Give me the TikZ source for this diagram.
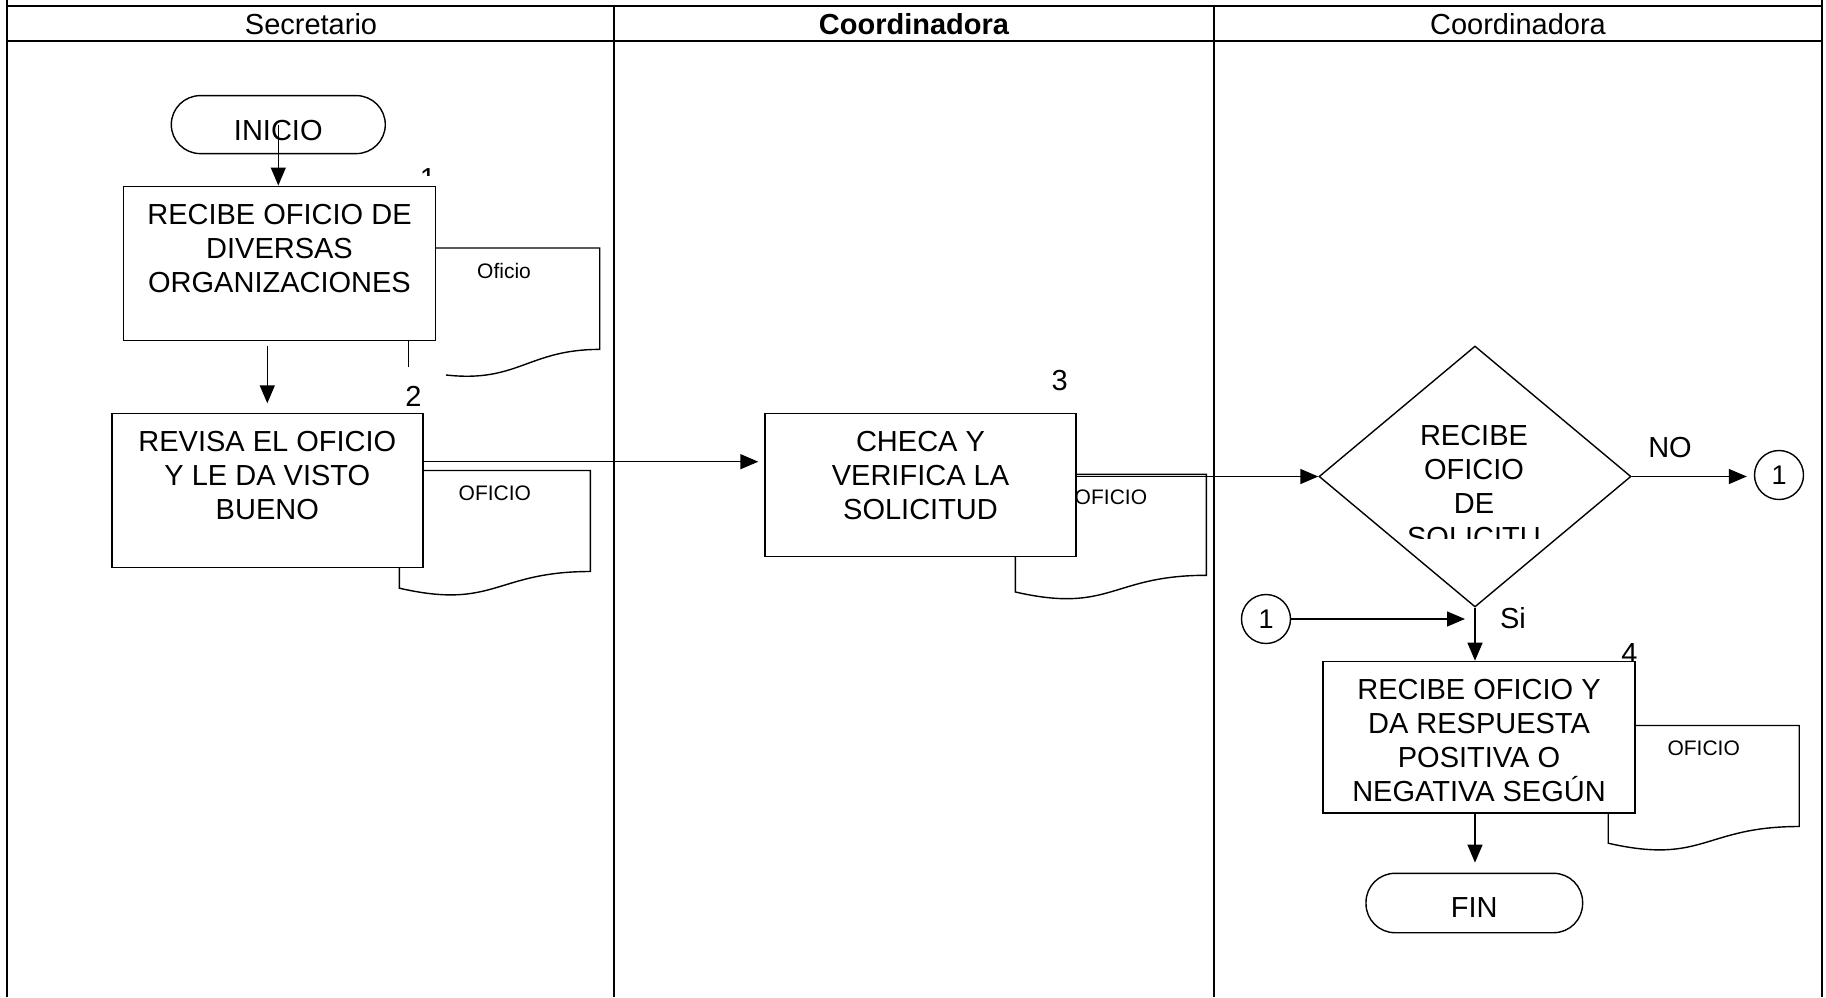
\documentclass[tikz,border=0pt]{standalone}
\usepackage{fontspec}
\setmainfont{Liberation Sans}
\usepackage{tikz}
\usetikzlibrary{shapes, arrows.meta, positioning, calc}

% text sits at the top of the process boxes
\newcommand{\boxtext}[3]{\parbox[c][#1][t]{#2}{\centering\rule{0pt}{19.2pt}#3}}

% document symbol: label name, top left corner, label text
\newcommand{\oficiodoc}[4]{%
  \begin{scope}[shift={(#2,#3)}]
    \draw[docline] (0,0) -- (191,0) -- (191,101) .. controls (95.5,101) and (95.5,139.5) .. (0,117.7) -- cycle;
    \node[doclabel] (#1) at (95.5,23) {#4};
  \end{scope}}

\begin{document}
\begin{tikzpicture}[
    x=0.5pt, y=-0.5pt,
    font=\fontsize{14.5}{17}\selectfont,
    lane/.style={line width=0.9pt},
    proc/.style={rectangle, draw, fill=white, line width=0.7pt, inner sep=0pt},
    term/.style={rectangle, draw, fill=white, line width=0.7pt, rounded corners=14.5pt, minimum width=107pt, minimum height=29pt, inner sep=0pt},
    dec/.style={diamond, draw, fill=white, line width=0.7pt, minimum width=156pt, minimum height=130.5pt, inner sep=0pt},
    conn/.style={circle, draw, fill=white, line width=0.7pt, minimum size=24.5pt, inner sep=0pt, font=\fontsize{13.5}{16}\selectfont},
    docline/.style={draw, fill=white, line width=0.7pt},
    doclabel/.style={font=\fontsize{10.5}{12}\selectfont, inner sep=0pt},
    num/.style={inner sep=0pt},
    arrow/.style={-{Triangle[length=9pt, width=7.5pt]}, line width=0.7pt}
]
\useasboundingbox (0,0) rectangle (1826,997);

% =========================================================
% LANES
% =========================================================
\draw[lane] (7.3,0) -- (7.3,997);
\draw[lane] (1822,0) -- (1822,997);
\draw[lane] (7.3,6.3) -- (1822,6.3);
\draw[lane] (7.3,41) -- (1822,41);
\draw[lane] (614,6.3) -- (614,997);
\draw[lane] (1214,6.3) -- (1214,997);

\node (hsec) at (311,24) {Secretario};
\node[font=\fontsize{14.5}{17}\selectfont\bfseries] (hcoord) at (914,24) {Coordinadora};
\node (hcoordb) at (1518,24) {Coordinadora};

% =========================================================
% STEP NUMBERS
% =========================================================
\begin{scope}
    \clip (400,160) rectangle (460,175.5);
    \node[num] (n1) at (428,178.4) {1};
\end{scope}
\node[num] (n2) at (413.4,396) {2};
\node[num] (n3) at (1059.7,381) {3};
\node[num] (n4) at (1629.5,653.5) {4};

% =========================================================
% DOCUMENTS
% =========================================================
% first one has its wave shifted off the left side
\draw[docline] (408.7,248) -- (599.7,248) -- (599.7,349.4) .. controls (528,349.4) and (518,383) .. (446,375);
\draw[line width=0.7pt] (408.7,248) -- (408.7,366.8);
\node[doclabel] (lbl1) at (504,271.3) {Oficio};

\oficiodoc{lbl2}{399.4}{470.5}{OFICIO}
\oficiodoc{lbl3}{1015.4}{474.3}{OFICIO}
\oficiodoc{lbl4}{1608.2}{725.5}{OFICIO}

% =========================================================
% STEPS
% =========================================================
\node[term, text height=16.4pt] (inicio) at (278.3,124.6) {INICIO};
\node[proc] (box1) at (279.5,263.2) {\boxtext{77pt}{156pt}{RECIBE OFICIO DE\\DIVERSAS\\ORGANIZACIONES}};
\node[proc] (box2) at (267.3,490.3) {\boxtext{76.9pt}{155.5pt}{REVISA EL OFICIO\\Y LE DA VISTO\\BUENO}};
\node[proc] (box3) at (920.5,485) {\boxtext{71.6pt}{155.5pt}{CHECA Y\\VERIFICA LA\\SOLICITUD}};
\node[dec] (dec) at (1475,476.5) {};
\node[proc] (box4) at (1479,737.1) {\boxtext{75.7pt}{156pt}{RECIBE OFICIO Y\\DA RESPUESTA\\POSITIVA O\\NEGATIVA SEGÚN}};
\node[term, minimum width=108.3pt, minimum height=29.7pt, text height=14pt] (fin) at (1474.3,903) {FIN};
\node[conn] (c1a) at (1779,475) {1};
\node[conn] (c1b) at (1266,619) {1};

% decision text is cut off by its box
\begin{scope}
    \clip (1380,400) rectangle (1570,538.5);
    \node[inner sep=0pt, anchor=north] (dectext) at (1474,407) {\boxtext{72pt}{100pt}{RECIBE\\OFICIO\\DE\\SOLICITU}};
\end{scope}

% =========================================================
% FLOW
% =========================================================
\draw[arrow] (inicio.center) -- (inicio.center |- box1.north);
\draw[arrow, shorten <=2.4pt, shorten >=4.7pt] (box2.north |- box1.south) -- (box2.north);
\draw[arrow, shorten >=3pt] ([yshift=-24.5pt]box2.north east) -- ([yshift=-24.5pt]box3.north west);
\draw[arrow] (box3.east |- dec.west) -- (dec.west);
\draw[arrow, shorten >=3.5pt] (dec.east) -- (dec.east -| c1a.west);
\draw[arrow, shorten >=5pt] (c1b.east) -- (dec.south |- c1b.east);
\draw[arrow] (dec.south) -- (dec.south |- box4.north);
\draw[arrow, shorten >=5pt] (dec.south |- box4.south) -- (dec.south |- fin.north);

\node (no) at (1670,448) {NO};
\node (si) at (1513,618) {Si};

\end{tikzpicture}
\end{document}
